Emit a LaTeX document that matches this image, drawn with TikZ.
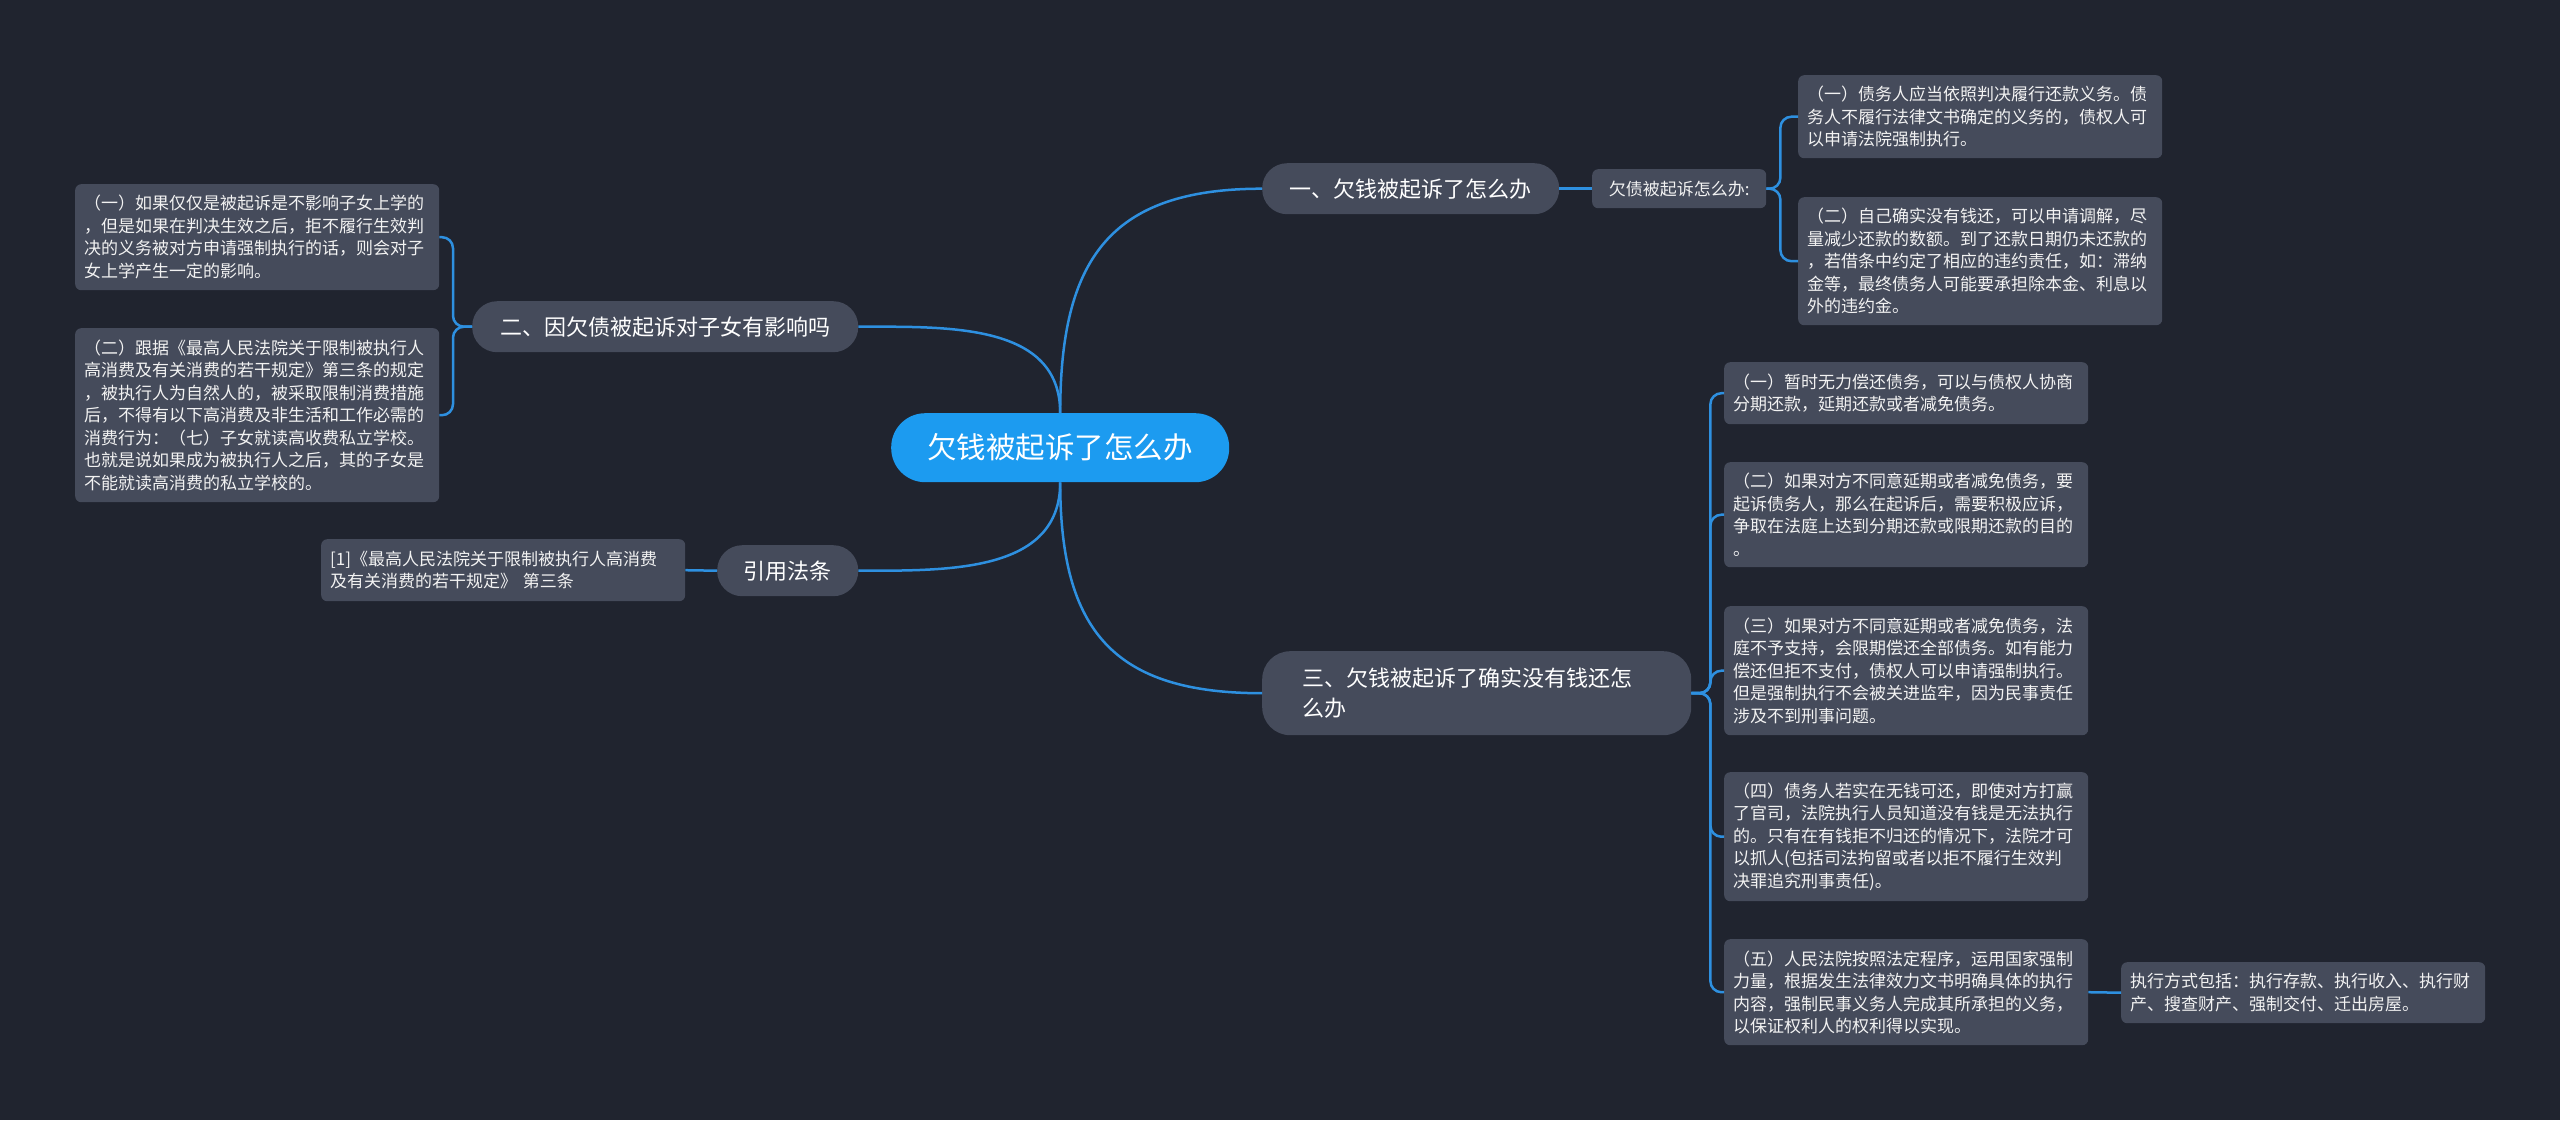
\documentclass[tikz,border=0pt]{standalone}
\usepackage{fontspec}
\newfontfamily\cjk{Noto Sans CJK SC}
\definecolor{bgc}{HTML}{20242F}
\definecolor{nodec}{HTML}{454B5B}
\definecolor{rootc}{HTML}{1C9BF0}
\definecolor{linec}{HTML}{2E90E0}
\definecolor{txtc}{HTML}{F2F2F2}
\begin{document}
\begin{tikzpicture}[x=1pt,y=-1pt,
  leaf/.style={fill=nodec, rounded corners=6pt, text=txtc, font=\cjk\fontsize{17}{22.5}\selectfont,
    align=left, text width=346pt, inner xsep=9pt, inner ysep=3pt, anchor=north west},
  small/.style={fill=nodec, rounded corners=6pt, text=txtc, font=\cjk\fontsize{17}{22.5}\selectfont,
    inner sep=0pt, anchor=north west},
  branch/.style={fill=nodec, rounded corners=25pt, text=white, font=\cjk\fontsize{22}{30}\selectfont,
    inner sep=0pt, minimum height=51pt, anchor=north west},
  rootbox/.style={fill=rootc, rounded corners=34pt, text=white, font=\cjk\fontsize{29.5}{36}\selectfont,
    inner sep=0pt, minimum height=69pt, minimum width=338pt, anchor=north west},
  conn/.style={draw=linec, line width=2.5pt},
  bracket/.style={conn, rounded corners=11pt}
]
\path[fill=bgc] (0,0) rectangle (2560,1120);

% root
\node[rootbox] (root) at (891,413) {欠钱被起诉了怎么办};

% main branches
\node[branch, minimum width=297pt] (b1) at (1262,163) {一、欠钱被起诉了怎么办};
\node[branch, minimum width=386pt] (b2) at (472,301) {二、因欠债被起诉对子女有影响吗};
\node[branch, minimum width=141pt] (b4) at (717,545) {引用法条};
\node[branch, rounded corners=28pt, minimum height=84pt, align=left, text width=349pt, inner xsep=40pt] (b3) at (1262,651) {三、欠钱被起诉了确实没有钱还怎\\么办};

% branch 1 children
\node[small, minimum width=174pt, minimum height=39pt] (s1) at (1592,169) {欠债被起诉怎么办:};
\node[leaf, minimum height=83pt] (r1) at (1798,75) {（一）债务人应当依照判决履行还款义务。债\\务人不履行法律文书确定的义务的，债权人可\\以申请法院强制执行。};
\node[leaf, minimum height=128pt] (r2) at (1798,197) {（二）自己确实没有钱还，可以申请调解，尽\\量减少还款的数额。到了还款日期仍未还款的\\，若借条中约定了相应的违约责任，如：滞纳\\金等，最终债务人可能要承担除本金、利息以\\外的违约金。};

% branch 2 children
\node[leaf, minimum height=106pt] (l1) at (75,184) {（一）如果仅仅是被起诉是不影响子女上学的\\，但是如果在判决生效之后，拒不履行生效判\\决的义务被对方申请强制执行的话，则会对子\\女上学产生一定的影响。};
\node[leaf, minimum height=174pt] (l2) at (75,328) {（二）跟据《最高人民法院关于限制被执行人\\高消费及有关消费的若干规定》第三条的规定\\，被执行人为自然人的，被采取限制消费措施\\后，不得有以下高消费及非生活和工作必需的\\消费行为：（七）子女就读高收费私立学校。\\也就是说如果成为被执行人之后，其的子女是\\不能就读高消费的私立学校的。};

% citation
\node[leaf, minimum height=62pt] (c1) at (321,539) {[1]《最高人民法院关于限制被执行人高消费\\及有关消费的若干规定》 第三条};

% branch 3 children
\node[leaf, minimum height=62pt] (t1) at (1724,362) {（一）暂时无力偿还债务，可以与债权人协商\\分期还款，延期还款或者减免债务。};
\node[leaf, minimum height=105pt] (t2) at (1724,462) {（二）如果对方不同意延期或者减免债务，要\\起诉债务人，那么在起诉后，需要积极应诉，\\争取在法庭上达到分期还款或限期还款的目的\\。};
\node[leaf, minimum height=129pt] (t3) at (1724,606) {（三）如果对方不同意延期或者减免债务，法\\庭不予支持，会限期偿还全部债务。如有能力\\偿还但拒不支付，债权人可以申请强制执行。\\但是强制执行不会被关进监牢，因为民事责任\\涉及不到刑事问题。};
\node[leaf, minimum height=129pt] (t4) at (1724,772) {（四）债务人若实在无钱可还，即使对方打赢\\了官司，法院执行人员知道没有钱是无法执行\\的。只有在有钱拒不归还的情况下，法院才可\\以抓人(包括司法拘留或者以拒不履行生效判\\决罪追究刑事责任)。};
\node[leaf, minimum height=106pt] (t5) at (1724,939) {（五）人民法院按照法定程序，运用国家强制\\力量，根据发生法律效力文书明确具体的执行\\内容，强制民事义务人完成其所承担的义务，\\以保证权利人的权利得以实现。};
\node[leaf, minimum height=61pt] (t6) at (2121,962) {执行方式包括：执行存款、执行收入、执行财\\产、搜查财产、强制交付、迁出房屋。};

% root connectors
\draw[conn] (root.north) to[out=90,in=180,looseness=1.3] (b1.west);
\draw[conn] (root.north) to[out=90,in=0,looseness=1.05] (b2.east);
\draw[conn] (root.south) to[out=-90,in=180,looseness=1.3] (b3.west);
\draw[conn] (root.south) to[out=-90,in=0,looseness=1.05] (b4.east);

% straight connectors
\draw[conn] (b1.east) -- (s1.west);
\draw[conn] (b4.west) -- (c1.east);
\draw[conn] (t5.east) -- (t6.west);

% brackets
\draw[bracket] (s1.east) -- ++(14,0) |- (r1.west);
\draw[bracket] (s1.east) -- ++(14,0) |- (r2.west);
\draw[bracket] (b2.west) -- ++(-19,0) |- (l1.east);
\draw[bracket] (b2.west) -- ++(-19,0) |- (l2.east);
\foreach \t in {t1,t2,t3,t4,t5}
  \draw[bracket] (b3.east) -- ++(19,0) |- (\t.west);
\end{tikzpicture}
\end{document}
